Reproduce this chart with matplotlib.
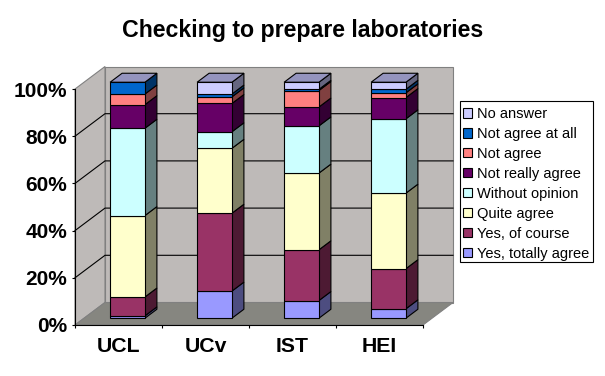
import matplotlib
matplotlib.use('Agg')
import matplotlib.pyplot as plt
from matplotlib.patches import Patch, Polygon, Rectangle

plt.rcParams['font.family'] = ['Liberation Sans', 'DejaVu Sans']

categories = ['UCL', 'UCv', 'IST', 'HEI']
yes_totally = [1, 11.5, 7.5, 4]
yes_course = [8, 33, 21.5, 17]
quite_agree = [34.5, 27.5, 32.5, 32]
without_opinion = [37, 7, 20, 31.5]
not_really = [10, 12, 8, 9]
not_agree = [4.5, 2.8, 7, 2]
not_at_all = [5, 1.2, 0.5, 1.5]
no_answer = [0, 5, 3, 3]

series = [yes_totally, yes_course, quite_agree, without_opinion,
          not_really, not_agree, not_at_all, no_answer]
names = ['Yes, totally agree', 'Yes, of course', 'Quite agree', 'Without opinion',
         'Not really agree', 'Not agree', 'Not agree at all', 'No answer']
colors = ['#9999FF', '#993366', '#FFFFCC', '#CCFFFF',
          '#660066', '#FF8080', '#0066CC', '#CCCCFF']
side_colors = ['#4D4D80', '#4D1A33', '#808066', '#668080',
               '#330033', '#804040', '#003366', '#666680']
top_color = '#9494BE'

# depth of the oblique chart box, in data units
DX = 30 / 87
DY = 22.5 / 2.36
BAR_W = 0.40
D0, D1 = 0.3, 0.7
LW = 0.8

fig = plt.figure(figsize=(6.05, 3.76), dpi=100)
ax = fig.add_axes([75 / 605, 51 / 376, 348 / 605, 236 / 376])
ax.set_xlim(0, 4)
ax.set_ylim(0, 100)
ax.patch.set_visible(False)


def add_poly(points, fc, ec='none', lw=0.0, z=1):
    ax.add_patch(Polygon(points, closed=True, facecolor=fc, edgecolor=ec,
                         linewidth=lw, clip_on=False, zorder=z))


# walls and floor
add_poly([(DX, DY), (4 + DX, DY), (4 + DX, 100 + DY), (DX, 100 + DY)], '#BEBAB8', '#808080', LW)
add_poly([(0, 0), (DX, DY), (DX, 100 + DY), (0, 100)], '#BEBAB8', '#808080', LW)
add_poly([(0, 0), (4, 0), (4 + DX, DY), (DX, DY)], '#868680', '#808080', LW)

# gridlines on the back and left walls
for v in [20, 40, 60, 80]:
    ax.plot([0, DX, 4 + DX], [v, v + DY, v + DY], color='black', lw=LW, clip_on=False, zorder=2)

# stacked bars: front faces through ax.bar, side and top faces as polygons
for i in range(len(categories)):
    x0 = i + 0.5 - BAR_W / 2 + D0 * DX
    x1 = x0 + BAR_W
    dx = (D1 - D0) * DX
    dy = (D1 - D0) * DY
    bottom = D0 * DY
    for values, c, sc in zip(series, colors, side_colors):
        h = values[i]
        if h == 0:
            continue
        ax.bar(x0, h, width=BAR_W, bottom=bottom, align='edge', color=c,
               edgecolor='black', linewidth=LW, clip_on=False, zorder=4)
        add_poly([(x1, bottom), (x1 + dx, bottom + dy), (x1 + dx, bottom + h + dy), (x1, bottom + h)],
                 sc, 'black', LW, 3)
        bottom += h
    add_poly([(x0, bottom), (x1, bottom), (x1 + dx, bottom + dy), (x0 + dx, bottom + dy)],
             top_color, 'black', LW, 3)

ax.spines['top'].set_visible(False)
ax.spines['right'].set_visible(False)
ax.spines['left'].set_zorder(5)
ax.spines['bottom'].set_zorder(5)
ax.spines['left'].set_linewidth(LW)
ax.spines['bottom'].set_linewidth(LW)
ax.set_yticks([0, 20, 40, 60, 80, 100])
ax.set_yticklabels(['0%', '20%', '40%', '60%', '80%', '100%'], fontsize=15, fontweight='bold')
ax.set_xticks([0, 1, 2, 3, 4])
ax.set_xticklabels([])
ax.set_xticks([0.5, 1.5, 2.5, 3.5], minor=True)
ax.set_xticklabels(categories, minor=True, fontsize=15.3, fontweight='bold')
ax.tick_params(axis='x', which='minor', length=0, pad=9)
ax.tick_params(axis='x', which='major', length=2.2, width=LW)
ax.tick_params(axis='y', length=2.2, width=LW, pad=3.5)

fig.text(302.5 / 605, 1 - 31 / 376, 'Checking to prepare laboratories', ha='center', va='center',
         fontsize=16.7, fontweight='bold')

# legend frame drawn apart, the entries sit a little low in the box
fig.add_artist(Rectangle((460 / 605, (376 - 262) / 376), 133 / 605, 161 / 376,
                         transform=fig.transFigure, facecolor='white', edgecolor='black',
                         linewidth=LW))
handles = [Patch(facecolor=c, edgecolor='black', linewidth=LW) for c in colors]
leg = fig.legend(handles[::-1], names[::-1], loc='lower left',
                 bbox_to_anchor=(460 / 605, (376 - 264) / 376), fontsize=10.5,
                 frameon=False, borderpad=0.22, labelspacing=0.41, handlelength=0.62,
                 handleheight=0.62, handletextpad=0.3, borderaxespad=0)

fig.savefig('out.png', dpi=100)
